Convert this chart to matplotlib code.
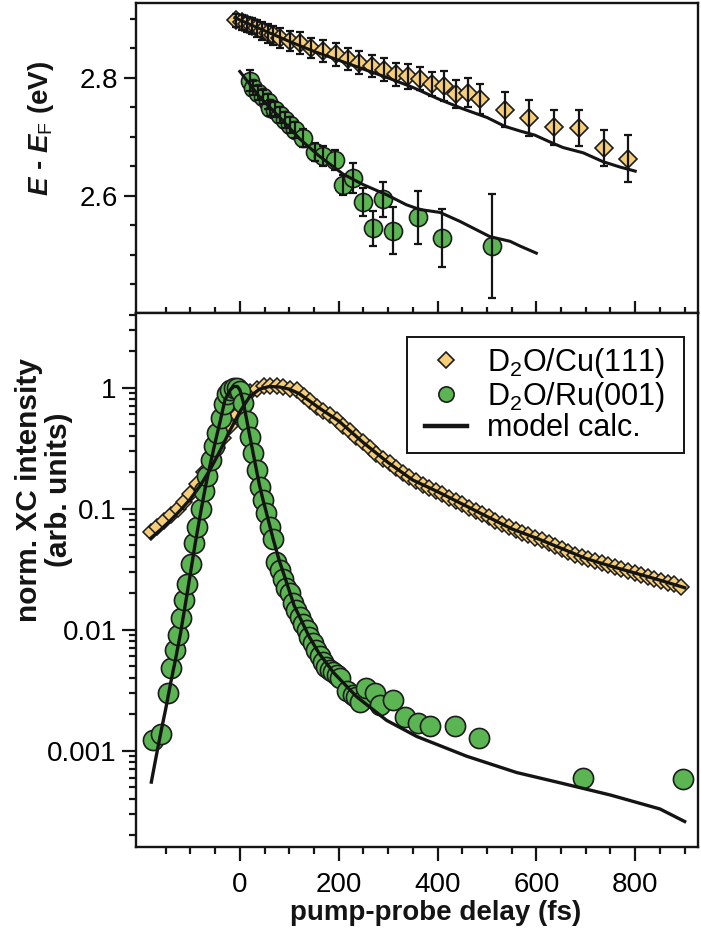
import matplotlib
matplotlib.use('Agg')
import matplotlib.pyplot as plt
from matplotlib.lines import Line2D
from matplotlib.patches import Rectangle
from matplotlib.ticker import (MultipleLocator, FixedLocator, LogLocator,
                               FuncFormatter, NullFormatter)

plt.rcParams['font.family'] = ['Liberation Sans', 'DejaVu Sans']
plt.rcParams['mathtext.fontset'] = 'custom'
plt.rcParams['mathtext.rm'] = 'Liberation Sans'
plt.rcParams['mathtext.it'] = 'Liberation Sans:italic:bold'
plt.rcParams['mathtext.bf'] = 'Liberation Sans:bold'

# ---------------- data: top panel (binding energy) ----------------
cu_top_t = [-7, 4, 14, 24, 34, 44, 57, 67, 81, 101, 121, 145, 169, 194, 218, 242,
            267, 291, 316, 340, 364, 389, 413, 437, 462, 486, 536, 586, 636, 686,
            736, 786]
cu_top_e = [2.898, 2.894, 2.891, 2.888, 2.884, 2.880, 2.876, 2.872, 2.867, 2.863,
            2.859, 2.851, 2.846, 2.840, 2.832, 2.826, 2.820, 2.814, 2.806, 2.803,
            2.799, 2.790, 2.786, 2.773, 2.775, 2.764, 2.746, 2.732, 2.716, 2.715,
            2.681, 2.663]
cu_top_err = [0.011, 0.012, 0.013, 0.014, 0.015, 0.015, 0.016, 0.016, 0.017, 0.017,
              0.018, 0.017, 0.019, 0.020, 0.018, 0.020, 0.019, 0.019, 0.019, 0.021,
              0.020, 0.020, 0.025, 0.024, 0.025, 0.025, 0.030, 0.031, 0.030, 0.030,
              0.030, 0.040]

ru_top_t = [20, 27, 37, 47, 57, 61, 71, 81, 91, 101, 111, 128, 152, 169, 192, 209,
            229, 250, 270, 290, 309, 361, 410, 511]
ru_top_e = [2.795, 2.783, 2.774, 2.767, 2.760, 2.749, 2.746, 2.737, 2.729, 2.720,
            2.712, 2.698, 2.675, 2.667, 2.661, 2.619, 2.630, 2.590, 2.545, 2.594,
            2.541, 2.564, 2.528, 2.515]
ru_top_err = [0.018, 0.012, 0.012, 0.012, 0.012, 0.013, 0.013, 0.013, 0.014, 0.014,
              0.014, 0.015, 0.015, 0.017, 0.017, 0.017, 0.025, 0.024, 0.030, 0.030,
              0.040, 0.045, 0.049, 0.088]

cu_top_model_t = [-10, 50, 100, 150, 200, 250, 300, 350, 400, 450, 500, 536, 567,
                  597, 634, 654, 695, 735, 769, 800]
cu_top_model_e = [2.902, 2.880, 2.862, 2.845, 2.830, 2.815, 2.800, 2.784, 2.765,
                  2.748, 2.733, 2.718, 2.710, 2.703, 2.689, 2.682, 2.673, 2.658,
                  2.649, 2.642]

ru_top_model_t = [0, 40, 81, 121, 160, 209, 250, 297, 337, 364, 405, 445, 506, 547,
                  567, 600]
ru_top_model_e = [2.811, 2.768, 2.733, 2.697, 2.668, 2.637, 2.619, 2.602, 2.585,
                  2.577, 2.572, 2.557, 2.531, 2.523, 2.515, 2.503]

# ---------------- data: bottom panel (XC intensity) ----------------
cu_t = [-180, -167, -153, -140, -126, -113, -100, -86, -73, -59, -46, -33, -19, -6,
        8, 21, 35, 48, 62, 75, 88, 102, 115, 129, 142, 156, 169, 182, 196, 209,
        223, 236, 249, 263, 276, 290, 303, 316, 330, 343, 357, 370, 383, 397, 410,
        424, 437, 450, 464, 477, 491, 504, 517, 531, 544, 558, 571, 584, 598, 611,
        625, 638, 651, 665, 678, 692, 705, 718, 732, 745, 759, 772, 785, 799, 812,
        826, 839, 852, 866, 879, 893]
cu_i = [0.0637, 0.0705, 0.0789, 0.0879, 0.100, 0.114, 0.133, 0.161, 0.199, 0.260,
        0.316, 0.385, 0.484, 0.596, 0.743, 0.912, 0.977, 1.026, 1.033, 1.028,
        1.012, 0.977, 0.955, 0.857, 0.774, 0.695, 0.641, 0.590, 0.540, 0.485,
        0.434, 0.390, 0.352, 0.315, 0.284, 0.257, 0.236, 0.217, 0.198, 0.182,
        0.168, 0.158, 0.149, 0.139, 0.131, 0.122, 0.115, 0.109, 0.102, 0.0959,
        0.0899, 0.0845, 0.0794, 0.0743, 0.0698, 0.0659, 0.0630, 0.0601, 0.0573,
        0.0548, 0.0521, 0.0493, 0.0467, 0.0441, 0.0417, 0.0395, 0.0381, 0.0367,
        0.0353, 0.0340, 0.0327, 0.0316, 0.0305, 0.0294, 0.0284, 0.0273, 0.0264,
        0.0254, 0.0244, 0.0236, 0.0227]

ru_t = [-176, -160, -146, -139, -132, -126, -119, -112, -106, -99, -92, -86, -79,
        -72, -66, -59, -52, -46, -39, -32, -26, -19, -12, -6, 1, 7, 14, 21, 27, 34,
        41, 47, 54, 61, 67, 74, 81, 88, 94, 101, 108, 114, 121, 128, 135, 141, 148,
        155, 162, 168, 175, 182, 189, 196, 202, 216, 229, 236, 243, 256, 273, 283,
        310, 334, 361, 385, 435, 483, 694, 897]
ru_i = [0.00123, 0.00138, 0.0030, 0.0048, 0.0068, 0.0090, 0.0125, 0.0175, 0.024,
        0.035, 0.052, 0.071, 0.10, 0.14, 0.185, 0.25, 0.33, 0.42, 0.56, 0.73, 0.88,
        0.96, 1.0, 1.0, 0.94, 0.74, 0.53, 0.39, 0.29, 0.21, 0.15, 0.118, 0.092,
        0.071, 0.056, 0.036, 0.031, 0.026, 0.022, 0.020, 0.0165, 0.0145, 0.0128,
        0.0112, 0.0100, 0.0087, 0.0077, 0.0068, 0.0060, 0.0054, 0.0049, 0.0046,
        0.0045, 0.0042, 0.0040, 0.0031, 0.0029, 0.0028, 0.0025, 0.0033, 0.0030,
        0.0024, 0.0026, 0.0019, 0.0017, 0.0016, 0.0016, 0.00127, 0.00059, 0.00058]

cu_model_t = [-180, -160, -140, -120, -100, -80, -60, -40, -20, 0, 20, 40, 60, 80,
              100, 120, 140, 160, 180, 200, 250, 300, 350, 400, 450, 500, 550, 600,
              650, 700, 750, 800, 850, 900]
cu_model_i = [0.057, 0.067, 0.080, 0.097, 0.120, 0.155, 0.21, 0.30, 0.44, 0.63,
              0.84, 0.97, 1.02, 1.01, 0.97, 0.89, 0.78, 0.68, 0.60, 0.53, 0.35,
              0.24, 0.172, 0.138, 0.109, 0.086, 0.068, 0.057, 0.047, 0.0387,
              0.0335, 0.0293, 0.0256, 0.0222]

ru_model_t = [-179, -170, -160, -150, -140, -130, -120, -110, -100, -90, -80, -70,
              -60, -50, -40, -30, -20, -12, -5, 0, 7, 14, 20, 27, 34, 40, 47, 54, 61,
              68, 80, 90, 100, 110, 125, 140, 160, 190, 236, 297, 358, 459, 560, 650,
              750, 850, 900]
ru_model_i = [0.00055, 0.00086, 0.0014, 0.0022, 0.0036, 0.0057, 0.0093, 0.0163,
              0.029, 0.052, 0.089, 0.148, 0.23, 0.35, 0.52, 0.79, 0.95, 1.02, 1.02,
              0.96, 0.76, 0.54, 0.40, 0.287, 0.205, 0.155, 0.118, 0.092, 0.071,
              0.055, 0.037, 0.028, 0.021, 0.0158, 0.0118, 0.0088, 0.0064, 0.0044,
              0.0028, 0.00178, 0.00131, 0.00090, 0.00066, 0.00054, 0.00043,
              0.00033, 0.00026]

x_major_ticks = [0, 200, 400, 600, 800]
x_minor_ticks = [-150, -100, -50, 50, 100, 150, 250, 300, 350, 450, 500, 550, 650,
                 700, 750, 850, 900]
legend_labels = [r'D$_\mathrm{2}$O/Cu(111)', r'D$_\mathrm{2}$O/Ru(001)', 'model calc.']

# ---------------- styling ----------------
YEL = '#F7CE78'
GRN = '#5AB552'
EDGE = '#1c1c1c'
INK = '#141414'
LW_SPINE = 1.7
W, H = 701, 935

fig = plt.figure(figsize=(7.01, 9.35), dpi=100)
ax1 = fig.add_axes([0.194, 0.6649, 0.8017, 0.3319])
ax2 = fig.add_axes([0.194, 0.0941, 0.8017, 0.5708])

for ax in (ax1, ax2):
    for s in ax.spines.values():
        s.set_linewidth(LW_SPINE)
        s.set_color(INK)
    ax.set_xlim(-210, 927)
    ax.xaxis.set_major_locator(FixedLocator(x_major_ticks))
    ax.xaxis.set_minor_locator(FixedLocator(x_minor_ticks))

# ---- top panel ----
ax1.plot(cu_top_t, cu_top_e, 'D', ms=9.0, mfc=YEL, mec=EDGE, mew=1.2, zorder=3)
ax1.errorbar(cu_top_t, cu_top_e, yerr=cu_top_err, fmt='none', ecolor=INK,
             elinewidth=1.6, capsize=3.2, capthick=1.6, zorder=4)
ax1.plot(ru_top_t, ru_top_e, 'o', ms=13, mfc=GRN, mec=EDGE, mew=1.2, zorder=3)
ax1.errorbar(ru_top_t, ru_top_e, yerr=ru_top_err, fmt='none', ecolor=INK,
             elinewidth=1.6, capsize=3.2, capthick=1.6, zorder=4)
ax1.plot(cu_top_model_t, cu_top_model_e, '-', color=INK, lw=2.2, zorder=5)
ax1.plot(ru_top_model_t, ru_top_model_e, '-', color=INK, lw=2.2, zorder=5)

ax1.set_ylim(2.401, 2.927)
ax1.yaxis.set_major_locator(FixedLocator([2.6, 2.8]))
ax1.yaxis.set_minor_locator(MultipleLocator(0.05))
ax1.yaxis.set_major_formatter(FuncFormatter(lambda v, p: f'{v:.1f}'))
ax1.tick_params(axis='y', which='major', direction='out', length=9, width=1.6,
                left=True, right=False, labelsize=20, pad=4, color=INK)
ax1.tick_params(axis='y', which='minor', direction='out', length=4.5, width=1.6,
                left=True, right=False, color=INK)
ax1.tick_params(axis='x', which='major', direction='inout', length=18, width=1.6,
                bottom=True, top=False, labelbottom=False, color=INK)
ax1.tick_params(axis='x', which='minor', direction='inout', length=9, width=1.6,
                bottom=True, top=False, color=INK)

# ---- bottom panel ----
ax2.set_yscale('log')
ax2.plot(cu_t, cu_i, 'D', ms=8.2, mfc=YEL, mec=EDGE, mew=1.1, zorder=3)
ax2.plot(ru_t, ru_i, 'o', ms=14.5, mfc=GRN, mec=EDGE, mew=1.2, zorder=3)
ax2.plot(cu_model_t, cu_model_i, '-', color=INK, lw=2.4, zorder=5)
ax2.plot(ru_model_t, ru_model_i, '-', color=INK, lw=2.4, zorder=5)

ax2.set_ylim(1.6e-4, 4.1)
ax2.yaxis.set_major_locator(LogLocator(base=10, numticks=12))
ax2.yaxis.set_minor_locator(LogLocator(base=10, subs=[2, 3, 4, 5, 6, 7, 8, 9], numticks=12))
ax2.yaxis.set_major_formatter(FuncFormatter(lambda v, p: f'{v:g}'))
ax2.yaxis.set_minor_formatter(NullFormatter())
ax2.tick_params(axis='y', which='major', direction='out', length=10, width=1.6,
                left=True, right=False, labelsize=20, pad=4, color=INK)
ax2.tick_params(axis='y', which='minor', direction='out', length=5, width=1.6,
                left=True, right=False, color=INK)
ax2.tick_params(axis='x', which='major', direction='out', length=10, width=1.6,
                bottom=True, top=False, labelsize=20, pad=8, color=INK)
ax2.tick_params(axis='x', which='minor', direction='out', length=5, width=1.6,
                bottom=True, top=False, color=INK)

# ---- legend (frame drawn separately to match the box) ----
ax2.add_patch(Rectangle((407 / W, 1 - 453 / H), (684 - 407) / W, (453 - 337) / H,
                        transform=fig.transFigure, fill=True, facecolor='white',
                        edgecolor=INK, linewidth=1.4, zorder=9, clip_on=False))
handles = [Line2D([], [], ls='none', marker='D', ms=8, mfc=YEL, mec=EDGE, mew=1.2),
           Line2D([], [], ls='none', marker='o', ms=11, mfc=GRN, mec=EDGE, mew=1.2),
           Line2D([], [], color=INK, lw=3.2)]
leg = ax2.legend(handles, legend_labels, loc='upper left',
                 bbox_to_anchor=(425 / W, 1 - 346 / H),
                 bbox_transform=fig.transFigure, fontsize=22, frameon=False,
                 borderaxespad=0, borderpad=0, handlelength=1.38,
                 handletextpad=0.66, labelspacing=-0.01)
leg.set_zorder(10)

# ---- labels ----
fig.text(41 / W, 1 - 128 / H, r'$E$ - $E_{\mathrm{F}}$ (eV)', rotation=90,
         ha='center', va='center', fontsize=20, fontweight='bold', color=INK)
fig.text(44 / W, 1 - 490 / H, 'norm. XC intensity\n(arb. units)', rotation=90,
         ha='center', va='center', fontsize=21.5, fontweight='bold', color=INK,
         multialignment='center', linespacing=1.05)
fig.text(436 / W, 1 - 913 / H, 'pump-probe delay (fs)', ha='center',
         va='center', fontsize=20, fontweight='bold', color=INK)

fig.savefig('out.png', dpi=100)
